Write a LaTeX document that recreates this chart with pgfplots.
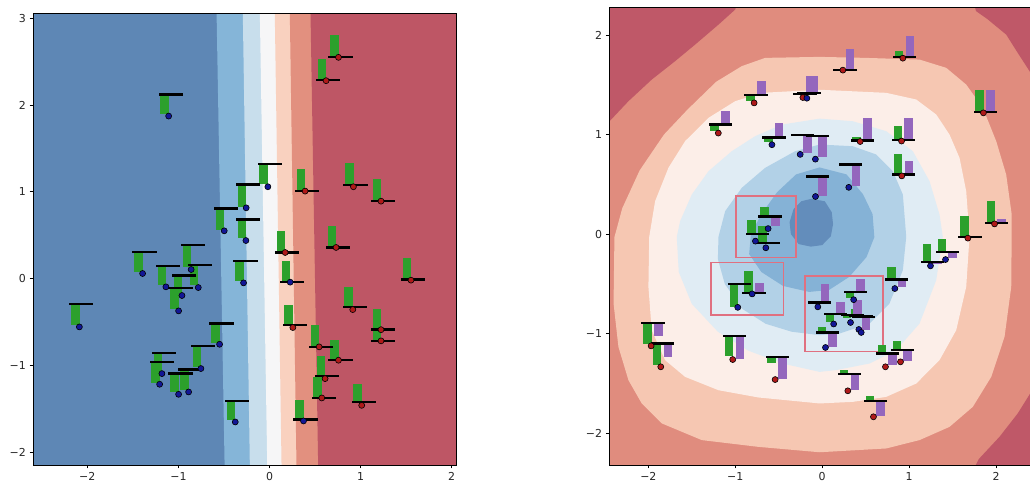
\documentclass[border=0pt]{standalone}
\usepackage{fontspec}
\setmainfont{DejaVu Sans}
\usepackage{pgfplots}
\usepackage{pgfplotstable}
\pgfplotsset{compat=1.18}

% left: linear classifier bands
\definecolor{Lb1}{RGB}{94,135,181}
\definecolor{Lb2}{RGB}{133,181,216}
\definecolor{Lb3}{RGB}{200,222,236}
\definecolor{Lw}{RGB}{246,246,247}
\definecolor{Lr3}{RGB}{249,209,191}
\definecolor{Lr2}{RGB}{226,144,127}
\definecolor{Lr1}{RGB}{190,86,101}
% right: radial classifier levels
\definecolor{Rr1}{RGB}{191,88,104}
\definecolor{Rr2}{RGB}{224,140,126}
\definecolor{Rr3}{RGB}{246,199,178}
\definecolor{Rw}{RGB}{252,238,232}
\definecolor{Rb4}{RGB}{224,236,244}
\definecolor{Rb3}{RGB}{178,209,231}
\definecolor{Rb2}{RGB}{133,178,214}
\definecolor{Rb1}{RGB}{99,141,187}
\definecolor{tabgreen}{RGB}{44,160,44}
\definecolor{tabpurple}{RGB}{148,103,189}
\definecolor{dotblue}{RGB}{18,22,150}
\definecolor{dotred}{RGB}{175,25,25}
\definecolor{boxpink}{RGB}{224,112,128}

% x y = point, ly = baseline of the glyph, ge = end of green bar, c = class
\pgfplotstableread{
x y ly ge c
0.757 2.550 2.558 2.808 1
0.621 2.281 2.288 2.527 1
-1.107 1.873 2.123 1.892 0
-0.018 1.058 1.319 1.085 0
0.391 1.008 1.008 1.258 1
0.921 1.058 1.077 1.327 1
1.224 0.892 0.892 1.142 1
-0.256 0.815 1.085 0.827 0
-0.497 0.550 0.808 0.565 0
-0.259 0.438 0.681 0.462 0
0.172 0.300 0.300 0.550 1
0.731 0.358 0.358 0.604 1
-1.393 0.058 0.308 0.077 0
-1.137 -0.096 0.146 -0.077 0
-0.860 0.104 0.384 0.130 0
-0.782 -0.104 0.158 -0.080 0
-0.961 -0.196 0.035 -0.170 0
-0.998 -0.373 -0.108 -0.350 0
-0.285 -0.050 0.200 -0.031 0
0.227 -0.042 -0.038 0.200 0
1.553 -0.019 -0.012 0.231 1
-2.087 -0.558 -0.292 -0.538 0
0.256 -0.565 -0.538 -0.308 1
0.914 -0.358 -0.327 -0.096 1
-0.548 -0.758 -0.519 -0.738 0
1.224 -0.719 -0.719 -0.450 1
1.224 -0.590 -0.588 -0.350 1
0.545 -0.788 -0.788 -0.538 1
0.757 -0.942 -0.942 -0.704 1
0.610 -1.154 -1.127 -0.896 1
0.574 -1.377 -1.377 -1.135 1
1.012 -1.462 -1.423 -1.212 1
0.373 -1.642 -1.627 -1.396 0
-0.376 -1.654 -1.415 -1.635 0
-0.753 -1.038 -0.781 -1.019 0
-1.206 -1.219 -0.962 -1.200 0
-1.181 -1.096 -0.858 -1.080 0
-0.998 -1.335 -1.096 -1.310 0
-0.888 -1.308 -1.050 -1.290 0
}\lefttab

% x y = point, ly = baseline, ge = green bar end, pe = purple bar end, c = class
\pgfplotstableread{
x y ly ge pe c
0.928 1.767 1.779 1.838 1.990 1
0.238 1.647 1.645 1.645 1.860 1
1.855 1.218 1.228 1.450 1.450 1
0.913 0.935 0.942 1.086 1.170 1
0.437 0.930 0.940 0.972 1.168 1
0.916 0.585 0.598 0.809 0.739 1
0.306 0.470 0.699 0.715 0.482 0
-0.077 0.378 0.579 0.579 0.385 0
-0.253 0.801 0.998 1.010 0.818 0
-0.078 0.753 0.987 0.987 0.770 0
-0.578 0.898 0.972 0.925 1.119 0
-1.195 1.015 1.100 1.034 1.235 1
-0.783 1.318 1.400 1.335 1.542 1
-0.222 1.372 1.406 1.420 1.590 1
-0.176 1.365 1.419 1.419 1.590 0
-0.622 0.056 0.176 0.274 0.083 0
-0.768 -0.070 0.000 0.140 0.000 0
-0.648 -0.137 -0.092 0.083 -0.092 0
-0.971 -0.735 -0.502 -0.730 -0.502 0
-0.806 -0.600 -0.594 -0.375 -0.486 0
-0.050 -0.730 -0.686 -0.686 -0.502 0
0.362 -0.658 -0.583 -0.640 -0.446 0
0.132 -0.902 -0.803 -0.882 -0.684 0
0.326 -0.887 -0.810 -0.845 -0.665 0
0.422 -0.957 -0.820 -0.750 -0.963 0
0.449 -0.987 -0.830 -0.830 -0.830 0
0.038 -1.138 -0.987 -0.930 -1.130 0
1.246 -0.318 -0.278 -0.094 -0.300 0
1.419 -0.255 -0.178 -0.044 -0.235 0
0.836 -0.546 -0.455 -0.328 -0.529 0
0.728 -1.332 -1.198 -1.115 -1.315 1
0.901 -1.282 -1.165 -1.071 -1.272 1
0.295 -1.573 -1.406 -1.360 -1.560 1
0.590 -1.834 -1.677 -1.624 -1.824 1
1.983 0.103 0.113 0.337 0.150 1
1.676 -0.040 -0.030 0.178 -0.030 1
-1.968 -1.122 -0.891 -1.104 -1.024 1
-1.857 -1.332 -1.098 -1.315 -1.232 1
-1.029 -1.259 -1.024 -1.225 -1.249 1
-0.541 -1.460 -1.232 -1.292 -1.450 1
}\righttab

\pgfplotsset{
  myax/.style={
    scale only axis, anchor=south west, axis on top,
    tick align=outside, tick pos=left,
    major tick length=3.5bp,
    every tick/.style={black, line width=0.9bp},
    axis line style={black, line width=0.9bp},
    tick label style={font=\fontsize{11}{13}\selectfont, text=black!85, inner sep=0pt},
    xticklabel shift=3.5bp, yticklabel shift=3.5bp,
    xtick={-2,-1,0,1,2}, xticklabels={−2,−1,0,1,2},
  },
  dots/.style={scatter, only marks, scatter src=explicit symbolic, mark size=3.0bp,
    scatter/classes={0={mark=*, draw=black, line width=0.6bp, fill=dotblue},
                     1={mark=*, draw=black, line width=0.6bp, fill=dotred}}},
  hline/.style={draw=none, mark=none, error bars/.cd, x dir=both, x explicit, error mark=none,
    error bar style={line width=2.3bp, draw=black, solid}},
  vbar/.style={draw=none, mark=none, error bars/.cd, y dir=both, y explicit, error mark=none,
    error bar style={line width=8.6bp, draw=#1, solid}},
}

\begin{document}
\begin{tikzpicture}
\useasboundingbox (0,0) rectangle (1030bp,486bp);
% ---------------- left ----------------
\begin{axis}[myax, at={(33bp,21bp)}, width=423bp, height=451.7bp,
  xmin=-2.596, xmax=2.047, ymin=-2.15, ymax=3.058,
  ytick={-2,-1,0,1,2,3}, yticklabels={−2,−1,0,1,2,3}]
\addplot[fill=Lb1, draw=none] coordinates {(-3,-3) (3,-3) (3,4) (-3,4)} --cycle;
\addplot[fill=Lb2, draw=none] coordinates {(-0.581,3.058) (3,3.058) (3,-2.15) (-0.493,-2.15)} --cycle;
\addplot[fill=Lb3, draw=none] coordinates {(-0.293,3.058) (3,3.058) (3,-2.15) (-0.216,-2.15)} --cycle;
\addplot[fill=Lw, draw=none] coordinates {(-0.106,3.058) (3,3.058) (3,-2.15) (-0.025,-2.15)} --cycle;
\addplot[fill=Lr3, draw=none] coordinates {(0.058,3.058) (3,3.058) (3,-2.15) (0.132,-2.15)} --cycle;
\addplot[fill=Lr2, draw=none] coordinates {(0.223,3.058) (3,3.058) (3,-2.15) (0.296,-2.15)} --cycle;
\addplot[fill=Lr1, draw=none] coordinates {(0.450,3.058) (3,3.058) (3,-2.15) (0.534,-2.15)} --cycle;
\addplot[dots] table[x=x, y=y, meta=c] {\lefttab};
\addplot[vbar=tabgreen] table[x expr=\thisrow{x}-0.045, y expr=(\thisrow{ly}+\thisrow{ge})/2,
  y error expr=abs(\thisrow{ge}-\thisrow{ly})/2] {\lefttab};
\addplot[hline] table[x expr=\thisrow{x}+0.022, y=ly, x error expr=0.133] {\lefttab};
\end{axis}
% ---------------- right ----------------
\begin{axis}[myax, at={(609.3bp,21bp)}, width=420.7bp, height=457.7bp,
  xmin=-2.449, xmax=2.391, ymin=-2.318, ymax=2.278,
  ytick={-2,-1,0,1,2}, yticklabels={−2,−1,0,1,2}]
\addplot[fill=Rr2, draw=none] coordinates {(-3,-3) (3,-3) (3,3) (-3,3)} --cycle;
\addplot[fill=Rr1, draw=none] coordinates {(-2.5,1.084) (-2.229,1.335) (-1.961,1.552) (-1.692,1.737) (-1.461,1.904) (-1.193,2.104) (-1.001,2.255) (-0.95,2.4) (-2.5,2.4)} --cycle;
\addplot[fill=Rr1, draw=none] coordinates {(1.72,2.4) (1.77,2.24) (1.90,2.16) (2.117,2.004) (2.25,1.82) (2.45,1.55) (2.45,2.4)} --cycle;
\addplot[fill=Rr1, draw=none] coordinates {(1.72,-2.4) (1.80,-2.26) (2.04,-2.035) (2.25,-1.80) (2.45,-1.52) (2.45,-2.4)} --cycle;
\addplot[fill=Rr3, draw=none] coordinates {(-0.03,1.78) (0.5,1.77) (1.12,1.753) (1.427,1.67) (1.657,1.502) (1.848,1.268) (2.002,0.934) (2.117,0.598) (2.18,0.2) (2.18,-0.03) (2.175,-0.529) (2.098,-1.031) (1.945,-1.433) (1.733,-1.734) (1.465,-1.935) (1.12,-2.068) (0.736,-2.152) (-0.03,-2.19) (-0.733,-2.136) (-1.385,-2.068) (-1.846,-1.9) (-2.076,-1.7) (-2.229,-1.466) (-2.344,-1.132) (-2.40,-0.697) (-2.39,-0.03) (-2.3,0.26) (-2.1,0.64) (-1.82,1.0) (-1.55,1.25) (-1.22,1.53) (-0.925,1.687) (-0.656,1.770)} --cycle;
\addplot[fill=Rw, draw=none] coordinates {(-0.03,1.45) (0.736,1.419) (1.082,1.352) (1.312,1.201) (1.465,1.0) (1.58,0.766) (1.657,0.432) (1.695,-0.027) (1.657,-0.529) (1.542,-0.964) (1.35,-1.265) (1.082,-1.5) (0.736,-1.634) (0.352,-1.684) (-0.03,-1.70) (-0.733,-1.64) (-1.193,-1.567) (-1.577,-1.433) (-1.807,-1.265) (-1.961,-0.964) (-1.999,-0.529) (-1.99,-0.027) (-1.922,0.331) (-1.769,0.666) (-1.577,0.934) (-1.308,1.168) (-1.001,1.335) (-0.695,1.419)} --cycle;
\addplot[fill=Rb4, draw=none] coordinates {(-0.03,1.16) (0.352,1.134) (0.736,1.034) (1.043,0.833) (1.235,0.532) (1.35,0.197) (1.388,-0.027) (1.312,-0.462) (1.12,-0.898) (0.851,-1.165) (0.544,-1.299) (0.16,-1.365) (-0.03,-1.383) (-0.45,-1.3) (-0.85,-1.17) (-1.2,-0.98) (-1.5,-0.7) (-1.65,-0.38) (-1.673,-0.027) (-1.634,0.131) (-1.5,0.398) (-1.308,0.632) (-1.04,0.833) (-0.771,0.984) (-0.465,1.10)} --cycle;
\addplot[fill=Rb3, draw=none] coordinates {(-0.03,0.9) (0.352,0.883) (0.621,0.8) (0.813,0.632) (0.928,0.398) (0.967,-0.027) (0.928,-0.362) (0.774,-0.697) (0.544,-0.898) (0.199,-0.998) (-0.03,-1.014) (-0.35,-0.98) (-0.65,-0.9) (-0.92,-0.75) (-1.12,-0.5) (-1.2,-0.25) (-1.193,-0.027) (-1.116,0.231) (-0.925,0.465) (-0.656,0.666) (-0.311,0.833)} --cycle;
\addplot[fill=Rb2, draw=none] coordinates {(-0.03,0.67) (0.28,0.60) (0.47,0.40) (0.58,0.20) (0.60,-0.03) (0.51,-0.23) (0.31,-0.43) (0.08,-0.56) (-0.15,-0.58) (-0.45,-0.52) (-0.70,-0.38) (-0.84,-0.2) (-0.82,0.0) (-0.70,0.2) (-0.52,0.42) (-0.30,0.60)} --cycle;
\addplot[fill=Rb1, draw=none] coordinates {(-0.125,0.355) (0.03,0.33) (0.11,0.22) (0.125,0.10) (0.10,-0.02) (0.0,-0.11) (-0.13,-0.125) (-0.27,-0.10) (-0.36,0.0) (-0.375,0.12) (-0.33,0.25) (-0.24,0.33)} --cycle;
% highlighted boxes
\addplot[draw=boxpink, line width=1.6bp] coordinates {(-0.99,0.385) (-0.30,0.385) (-0.30,-0.234) (-0.99,-0.234)} --cycle;
\addplot[draw=boxpink, line width=1.6bp] coordinates {(-1.277,-0.284) (-0.445,-0.284) (-0.445,-0.81) (-1.277,-0.81)} --cycle;
\addplot[draw=boxpink, line width=1.6bp] coordinates {(-0.196,-0.418) (0.698,-0.418) (0.698,-1.178) (-0.196,-1.178)} --cycle;
\addplot[dots] table[x=x, y=y, meta=c] {\righttab};
\addplot[vbar=tabgreen] table[x expr=\thisrow{x}-0.042, y expr=(\thisrow{ly}+\thisrow{ge})/2,
  y error expr=abs(\thisrow{ge}-\thisrow{ly})/2] {\righttab};
\addplot[vbar=tabpurple] table[x expr=\thisrow{x}+0.082, y expr=(\thisrow{ly}+\thisrow{pe})/2,
  y error expr=abs(\thisrow{pe}-\thisrow{ly})/2] {\righttab};
\addplot[hline] table[x expr=\thisrow{x}+0.023, y=ly, x error expr=0.134] {\righttab};
\end{axis}
\end{tikzpicture}
\end{document}
